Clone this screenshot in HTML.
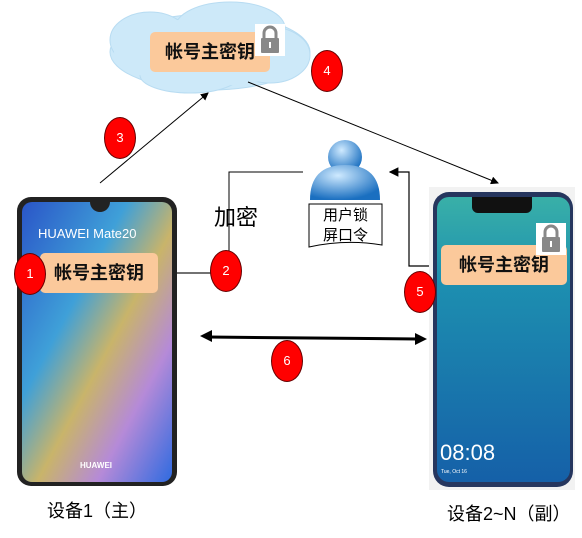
<!DOCTYPE html>
<html><head><meta charset="utf-8"><style>
body{margin:0;width:582px;height:538px;background:#fff;position:relative;overflow:hidden;font-family:"Liberation Sans","Noto Sans CJK SC",sans-serif}
.a{position:absolute}
.key{position:absolute;background:#fbc99b;border-radius:5px;font-weight:bold;font-size:18px;color:#111;text-align:center;line-height:40px}
.c{position:absolute;background:#f00;border:1px solid #600;border-radius:50%;color:#fff;font-size:13px;text-align:center;width:30px;height:40px;line-height:40px}
</style></head><body>
<svg class="a" style="left:0;top:0" width="582" height="538">
<defs><marker id="ar" markerWidth="8" markerHeight="8" refX="7" refY="4" orient="auto"><path d="M0,0L8,4L0,8z" fill="#000"/></marker>
<linearGradient id="s1" x1="0" y1="0" x2="1" y2="1"><stop offset="0" stop-color="#2a55c8"/><stop offset="0.35" stop-color="#3fa0d8"/><stop offset="0.55" stop-color="#c9b46a"/><stop offset="0.75" stop-color="#b58ad8"/><stop offset="1" stop-color="#2f6be0"/></linearGradient>
<linearGradient id="s2" x1="0" y1="0" x2="0" y2="1"><stop offset="0" stop-color="#39b0a8"/><stop offset="0.3" stop-color="#1d8fb0"/><stop offset="1" stop-color="#1560a8"/></linearGradient>
<radialGradient id="pb" cx="0.4" cy="0.3" r="0.7"><stop offset="0" stop-color="#cfeaff"/><stop offset="1" stop-color="#1a6fc0"/></radialGradient></defs>
<g fill="#cde9f9" stroke="#b8dcf2">
<ellipse cx="210" cy="52" rx="100" ry="38"/><ellipse cx="150" cy="40" rx="40" ry="28"/><ellipse cx="230" cy="28" rx="55" ry="26"/><ellipse cx="270" cy="55" rx="40" ry="28"/><ellipse cx="190" cy="75" rx="50" ry="18"/></g>
<g fill="#cde9f9"><ellipse cx="210" cy="52" rx="96" ry="34"/><ellipse cx="230" cy="30" rx="50" ry="22"/><ellipse cx="150" cy="42" rx="36" ry="24"/></g>
<line x1="100" y1="183" x2="208" y2="93" stroke="#000" stroke-width="1" marker-end="url(#ar)"/>
<line x1="248" y1="82" x2="498" y2="183" stroke="#000" stroke-width="1" marker-end="url(#ar)"/>
<polyline points="303,172 229,172 229,270 214,270" fill="none" stroke="#000"/>
<line x1="214" y1="273" x2="163" y2="273" stroke="#444" stroke-width="1.5" marker-end="url(#ar)"/>
<polyline points="441,266 409,266 409,172 390,172" fill="none" stroke="#000" stroke-width="1.2" marker-end="url(#ar)"/>
<line x1="208" y1="337" x2="418" y2="339" stroke="#000" stroke-width="3"/>
<path d="M200,336L212,330L212,342z M427,339L415,333L415,345z" fill="#000"/>
<rect x="17" y="197" width="160" height="289" rx="14" fill="#222"/>
<rect x="22" y="202" width="150" height="280" rx="10" fill="url(#s1)"/>
<path d="M90,202 h20 a10,10 0 0 1 -20,0z" fill="#222"/>
<text x="38" y="238" fill="#fff" font-size="13" font-family="Liberation Sans">HUAWEI Mate20</text>
<text x="80" y="468" fill="#fff" font-size="8" font-weight="bold" font-family="Liberation Sans">HUAWEI</text>
<rect x="429" y="187" width="146" height="303" fill="#f2f2f2"/>
<rect x="433" y="192" width="140" height="295" rx="16" fill="#26365e"/>
<rect x="437" y="197" width="133" height="285" rx="12" fill="url(#s2)"/>
<path d="M472,197h60v10a6,6 0 0 1 -6,6h-48a6,6 0 0 1 -6,-6z" fill="#111"/>
<text x="440" y="460" fill="#fff" font-size="22" font-family="Liberation Sans">08:08</text>
<text x="441" y="473" fill="#fff" font-size="5" font-family="Liberation Sans">Tue, Oct 16</text>
<ellipse cx="345" cy="157" rx="17" ry="17" fill="url(#pb)"/>
<path d="M310,200 q0,-35 35,-35 q35,0 35,35z" fill="url(#pb)"/>
<path d="M309,204h73v41q-36,-6 -73,2z" fill="#fff" stroke="#000"/>
</svg>
<div class="key" style="left:150px;top:32px;width:120px;height:40px">帐号主密钥</div>
<div class="key" style="left:40px;top:253px;width:118px;height:40px">帐号主密钥</div>
<div class="key" style="left:441px;top:245px;width:126px;height:40px">帐号主密钥</div>
<svg class="a" style="left:255px;top:24px" width="30" height="32"><rect width="30" height="32" fill="#fff"/><rect x="6" y="14" width="18" height="15" rx="1" fill="#888"/><path d="M9,14v-5a6,6 0 0 1 12,0v5" fill="none" stroke="#888" stroke-width="3"/><rect x="14" y="18" width="2" height="6" fill="#fff"/></svg>
<svg class="a" style="left:536px;top:223px" width="30" height="32"><rect width="30" height="32" fill="#fff"/><rect x="6" y="14" width="18" height="15" rx="1" fill="#888"/><path d="M9,14v-5a6,6 0 0 1 12,0v5" fill="none" stroke="#888" stroke-width="3"/><rect x="14" y="18" width="2" height="6" fill="#fff"/></svg>
<div class="a" style="left:309px;top:206px;width:73px;font-size:15px;line-height:20px;text-align:center">用户锁<br>屏口令</div>
<div class="a" style="left:214px;top:200px;font-size:22px">加密</div>
<div class="c" style="left:311px;top:50px">4</div>
<div class="c" style="left:104px;top:117px">3</div>
<div class="c" style="left:14px;top:253px">1</div>
<div class="c" style="left:210px;top:250px">2</div>
<div class="c" style="left:404px;top:271px">5</div>
<div class="c" style="left:271px;top:340px">6</div>
<div class="a" style="left:47px;top:497px;font-size:18px">设备1（主）</div>
<div class="a" style="left:447px;top:500px;font-size:18px">设备2~N（副）</div>
</body></html>
